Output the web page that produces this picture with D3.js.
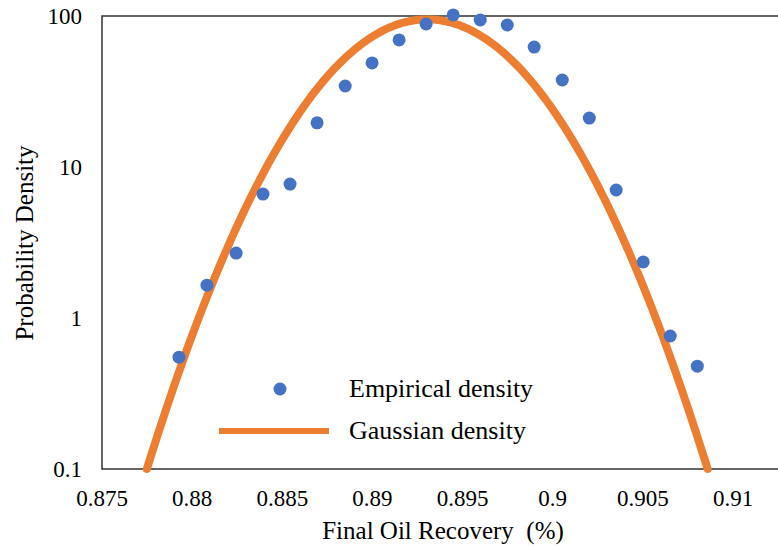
<!DOCTYPE html>
<html>
<head>
<meta charset="utf-8">
<script src="https://cdn.jsdelivr.net/npm/d3@7"></script>
<style>
  body { margin: 0; background: #fff; }
</style>
</head>
<body>
<div id="chart"></div>
<script>
// empirical density points
const recovery = [0.87927, 0.88082, 0.88244, 0.88393, 0.88543, 0.88693, 0.88849, 0.88998, 0.89148, 0.89298,
  0.89448, 0.89598, 0.89748, 0.89897, 0.90053, 0.90203, 0.90352, 0.90502, 0.90652, 0.90802];
const density = [0.55, 1.65, 2.69, 6.62, 7.71, 19.6, 34.4, 48.9, 69.4, 88.5,
  101.6, 94.1, 87.2, 62.3, 37.7, 21.1, 7.04, 2.35, 0.76, 0.48];

// fitted gaussian
const gaussMean = 0.89304;
const gaussStd = 0.0042;

const xTicks = [0.875, 0.88, 0.885, 0.89, 0.895, 0.9, 0.905, 0.91];
const yTicks = [0.1, 1, 10, 100];

const width = 778, height = 546;
const margin = { top: 16, left: 102, bottom: 469 };
const serif = "'Liberation Serif', 'Times New Roman', serif";

const svg = d3.select("#chart").append("svg")
  .attr("width", width)
  .attr("height", height)
  .style("font-family", serif);

const x = d3.scaleLinear().domain([0.875, 0.91]).range([margin.left, 733]);
const y = d3.scaleLog().domain([0.1, 100]).range([margin.bottom, margin.top]);

// frame (right side runs off the picture)
svg.append("rect")
  .attr("x", margin.left)
  .attr("y", margin.top)
  .attr("width", width + 20 - margin.left)
  .attr("height", margin.bottom - margin.top)
  .attr("fill", "none")
  .attr("stroke", "#333")
  .attr("stroke-width", 1.5);

// tick labels
svg.append("g").selectAll("text")
  .data(xTicks).join("text")
  .attr("x", d => x(d))
  .attr("y", 506)
  .attr("text-anchor", "middle")
  .attr("font-family", serif)
  .style("font-size", "23px")
  .text(d => d3.format("")(d));

svg.append("g").selectAll("text")
  .data(yTicks).join("text")
  .attr("x", 82)
  .attr("y", d => y(d))
  .attr("dy", "0.35em")
  .attr("text-anchor", "end")
  .attr("font-family", serif)
  .style("font-size", "23px")
  .text(d => d);

// axis titles
svg.append("text")
  .attr("x", 443)
  .attr("y", 539)
  .attr("text-anchor", "middle")
  .attr("xml:space", "preserve")
  .attr("font-family", serif)
  .style("font-size", "25px")
  .text("Final Oil Recovery  (%)");

svg.append("text")
  .attr("transform", "translate(33,243) rotate(-90)")
  .attr("text-anchor", "middle")
  .attr("font-family", serif)
  .style("font-size", "25px")
  .text("Probability Density");

// gaussian curve
const peak = 1 / (gaussStd * Math.sqrt(2 * Math.PI));
const half = gaussStd * Math.sqrt(2 * Math.log(peak / 0.1));
const gx = d3.range(0, 201).map(i => gaussMean - half + (2 * half) * i / 200);
const gauss = v => peak * Math.exp(-((v - gaussMean) ** 2) / (2 * gaussStd * gaussStd));

const line = d3.line()
  .x(d => x(d))
  .y(d => y(Math.max(0.1, gauss(d))));

svg.append("path")
  .datum(gx)
  .attr("d", line)
  .attr("fill", "none")
  .attr("stroke", "#ED7D31")
  .attr("stroke-width", 8)
  .attr("stroke-linecap", "round")
  .attr("stroke-linejoin", "round");

// empirical points
svg.append("g").selectAll("circle")
  .data(recovery).join("circle")
  .attr("cx", d => x(d))
  .attr("cy", (d, i) => y(density[i]))
  .attr("r", 6.5)
  .attr("fill", "#4472C4");

// legend
const legend = svg.append("g");
legend.append("circle")
  .attr("cx", 280).attr("cy", 389).attr("r", 6.5)
  .attr("fill", "#4472C4");
legend.append("text")
  .attr("x", 349).attr("y", 397)
  .attr("font-family", serif)
  .style("font-size", "26px")
  .text("Empirical density");
legend.append("line")
  .attr("x1", 219).attr("x2", 329)
  .attr("y1", 431).attr("y2", 431)
  .attr("stroke", "#ED7D31")
  .attr("stroke-width", 6);
legend.append("text")
  .attr("x", 349).attr("y", 439)
  .attr("font-family", serif)
  .style("font-size", "26px")
  .text("Gaussian density");
</script>
</body>
</html>
